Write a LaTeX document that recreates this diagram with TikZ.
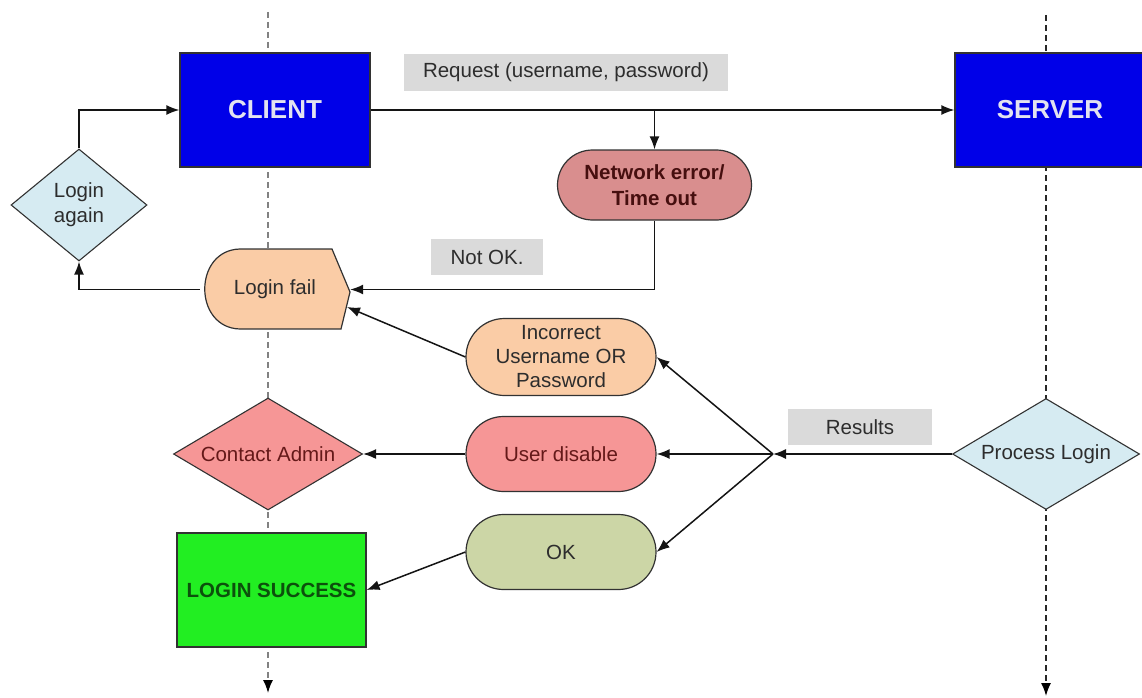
\documentclass[tikz,border=0pt]{standalone}
\usepackage{fontspec}
\setmainfont{Liberation Sans}
\usetikzlibrary{arrows.meta,shapes.geometric,shapes.misc}

\definecolor{boxblue}{RGB}{0,0,232}
\definecolor{clienttext}{RGB}{226,226,240}
\definecolor{edgegray}{RGB}{50,50,50}
\definecolor{linec}{RGB}{20,20,20}
\definecolor{txtgray}{RGB}{45,45,45}
\definecolor{taggray}{RGB}{218,218,218}
\definecolor{neterrfill}{RGB}{217,142,142}
\definecolor{neterrtext}{RGB}{70,15,15}
\definecolor{peach}{RGB}{250,204,166}
\definecolor{pinkfill}{RGB}{246,150,150}
\definecolor{pinktext}{RGB}{100,25,25}
\definecolor{olivefill}{RGB}{204,214,166}
\definecolor{greenfill}{RGB}{34,238,34}
\definecolor{greentext}{RGB}{12,80,12}
\definecolor{paleblue}{RGB}{214,235,242}
\definecolor{lifegray}{RGB}{130,130,130}
\definecolor{lifedark}{RGB}{40,40,40}

\begin{document}
\begin{tikzpicture}[x=1pt,y=-1pt,
  font=\fontsize{20.5}{25}\selectfont,
  every node/.style={inner sep=0pt, text=txtgray},
  actor/.style={draw=edgegray, line width=1.2pt, fill=boxblue,
    minimum width=190pt, minimum height=114pt, text=clienttext,
    font=\fontsize{26}{30}\selectfont\bfseries},
  pill/.style={rounded rectangle, draw=edgegray, line width=1.2pt,
    minimum width=190pt, minimum height=75pt, align=center},
  decision/.style={diamond, draw=edgegray, line width=1.1pt, align=center},
  tag/.style={fill=taggray},
  flow/.style={line width=1.5pt, draw=linec, -{Latex[length=13pt,width=10pt]}},
  life/.style={line width=1.5pt, dash pattern=on 6pt off 4pt,
    -{Latex[length=13pt,width=10pt,color=black]}},
]
\useasboundingbox (0,0) rectangle (1142,698);

% lifelines of the two parties
\coordinate (ctop) at (268,12);
\coordinate (cbot) at (268,693);
\coordinate (stop) at (1046,15);
\coordinate (sbot) at (1046,696);
\draw[life, draw=lifegray] (ctop) -- (cbot);
\draw[life, draw=lifedark] (stop) -- (sbot);

% parties
\node[actor] (client) at (275,110) {CLIENT};
\node[actor] (server) at (1050,110) {SERVER};

% labels on the message lines
\node[tag, minimum width=324pt, minimum height=37pt] (reqtag) at (566,72.5) {Request (username, password)};
\node[tag, minimum width=112pt, minimum height=36pt] (notoktag) at (487,257) {Not OK.};
\node[tag, minimum width=144pt, minimum height=36pt] (restag) at (860,427) {Results};

% network failure
\node[pill, fill=neterrfill, minimum width=194pt, minimum height=70pt,
      text=neterrtext, font=\fontsize{20.5}{26}\selectfont\bfseries]
  (neterr) at (654.5,185) {Network error/\\Time out};

% login fail: rounded on the left, pointed on the right
\draw[fill=peach, draw=edgegray, line width=1.2pt]
  (350,292) -- (332,249) -- (240,249)
  .. controls (193,250) and (193,328) .. (240,329) -- (341,329) -- cycle;
\node[minimum width=150pt, minimum height=79pt] (loginfail) at (275,289.5) {Login fail};
\coordinate (lfin) at (347,307);

\node[decision, fill=paleblue, shape aspect=1.2, minimum width=136pt, minimum height=112pt]
  (again) at (79,205) {Login\\again};

% results of the login check
\node[pill, fill=peach, minimum height=77pt, font=\fontsize{20.5}{24}\selectfont]
  (incorrect) at (561,357) {Incorrect\\Username OR\\Password};
\node[pill, fill=pinkfill, text=pinktext] (disable) at (561,454) {User disable};
\node[pill, fill=olivefill] (ok) at (561,552) {OK};

\node[decision, fill=pinkfill, text=pinktext, shape aspect=1.69,
      minimum width=189pt, minimum height=112pt]
  (admin) at (268,454) {Contact Admin};
\node[draw=edgegray, line width=1.2pt, fill=greenfill, minimum width=189pt,
      minimum height=114pt, text=greentext, font=\fontsize{20.5}{25}\selectfont\bfseries]
  (success) at (271.5,590) {LOGIN SUCCESS};

\node[decision, fill=paleblue, shape aspect=1.69, minimum width=187pt, minimum height=111pt]
  (process) at (1046,454) {Process Login};

% connectors
\coordinate (br) at (654.5,110);
\coordinate (jn) at (773,454);
\draw[flow] (client.east) -- (server.west);
\draw[flow] (br) -- (neterr.north);
\draw[flow] (neterr.south) |- (loginfail.east);
\draw[flow] (loginfail.west) -| (again.south);
\draw[flow] (again.north) |- (client.west);
\draw[flow] (incorrect.west) -- (lfin);
\draw[flow] (process.west) -- (jn);
\draw[flow] (jn) -- (incorrect.east);
\draw[flow] (jn) -- (disable.east);
\draw[flow] (jn) -- (ok.east);
\draw[flow] (disable.west) -- (admin.east);
\draw[flow] (ok.west) -- (success.east);
\end{tikzpicture}
\end{document}
